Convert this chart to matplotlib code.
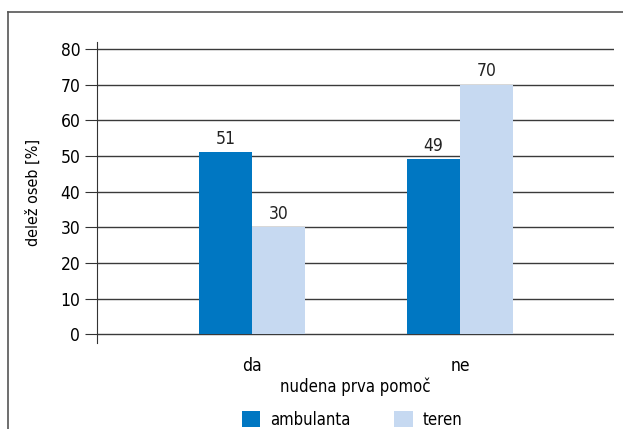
import numpy as np
import matplotlib.pyplot as plt
from matplotlib.lines import Line2D
from matplotlib.patches import Patch

categories = ['da', 'ne']
series_names = ['ambulanta', 'teren']
ambulanta = [51, 49]
teren = [30, 70]
yticks = [0, 10, 20, 30, 40, 50, 60, 70, 80]

colors = ['#0077c2', '#c6d9f1']

plt.rcParams['font.family'] = ['DejaVu Sans']
plt.rcParams['font.stretch'] = 'condensed'

fig = plt.figure(figsize=(6.23, 4.29), dpi=100)
ax = fig.add_axes([0.1557, 0.2005, 0.83, 0.7015])

x = np.arange(len(categories))
width = 0.255
for i, (vals, name) in enumerate(zip([ambulanta, teren], series_names)):
    pos = x + (i - 0.5) * width
    ax.bar(pos, vals, width, color=colors[i], label=name, zorder=2)
    for px, v in zip(pos, vals):
        ax.text(px, v + 1.2, str(v), ha='center', va='bottom', fontsize=12.5, color='#222222')

ax.set_xlim(-0.745, 1.74)
ax.set_ylim(-2.4, 81.9)
ax.set_yticks(yticks)
ax.set_xticks(x)
ax.set_xticklabels(categories)
ax.yaxis.grid(True, color='#3a3a3a', linewidth=1.0)
ax.set_axisbelow(True)
for s in ['top', 'right', 'bottom']:
    ax.spines[s].set_visible(False)
ax.spines['left'].set_color('#333333')
ax.tick_params(axis='y', length=9, color='#333333', labelsize=12.5, pad=3)
ax.tick_params(axis='x', length=0, labelsize=12.5, pad=10)
ax.set_ylabel('delež oseb [%]', fontsize=11.5, labelpad=14)
ax.set_xlabel('nudena prva pomoč', fontsize=12, labelpad=2)

handles = [Patch(facecolor=c, label=n) for c, n in zip(colors, series_names)]
fig.legend(handles=handles, loc='center', bbox_to_anchor=(0.565, 0.022), ncol=2,
           frameon=False, fontsize=12, handlelength=1.1, handleheight=1.1,
           columnspacing=2.65, handletextpad=0.6)

# outer frame, open on the right and bottom
fig.add_artist(Line2D([8 / 623, 1], [1 - 12 / 429, 1 - 12 / 429], color='#555555', lw=1.2))
fig.add_artist(Line2D([8 / 623, 8 / 623], [0, 1 - 12 / 429], color='#555555', lw=1.2))

fig.savefig('out.png', dpi=100)
